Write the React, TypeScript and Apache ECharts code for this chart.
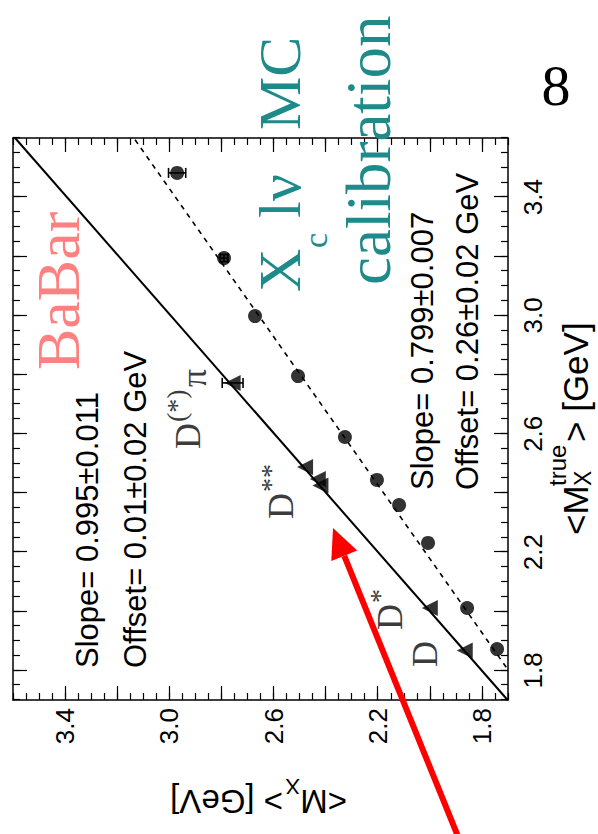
import React, { useEffect, useRef } from "react";
import * as echarts from "echarts";

// The plot is laid out landscape (W x H) and then turned a quarter turn
// counter-clockwise so it fills the portrait page.
const W = 834;
const H = 598;

const axisMin = 1.7;
const axisMax = 3.6;
const majorTicks = [1.8, 2.0, 2.2, 2.4, 2.6, 2.8, 3.0, 3.2, 3.4];
const tickLabels = [1.8, 2.2, 2.6, 3.0, 3.4];

// Single-resonance samples (triangles): D, D*, D** states, D(*)pi
const resTrue = [1.867, 2.011, 2.425, 2.447, 2.488, 2.772];
const resMeas = [1.866, 2.0, 2.42, 2.43, 2.479, 2.757];

// Inclusive MC bins (circles)
const incTrue = [3.482, 3.194, 2.998, 2.795, 2.589, 2.444, 2.359, 2.231, 2.011, 1.872];
const incMeas = [2.97, 2.79, 2.671, 2.506, 2.326, 2.203, 2.118, 2.007, 1.857, 1.742];

// Error bars: [true, measured, measured error, true error]
const errBars = [
  [3.482, 2.97, 0.033, 0],
  [3.194, 2.79, 0.015, 0.012],
  [2.772, 2.757, 0.04, 0],
];

// Straight-line fits
const fitSolid = { slope: 0.995, offset: 0.01 };
const fitDashed = { slope: 0.799, offset: 0.26 };

const SANS = "'Liberation Sans', Arial, Helvetica, sans-serif";
const SERIF = "'Liberation Serif', 'Times New Roman', Times, serif";
const TEAL = "#1f8a8a";
const SALMON = "#ff8080";
const LABEL_GREY = "#3c3c3c";

const GRID = { left: 134, top: 13, width: 562, height: 495 };

function fitLine(f: { slope: number; offset: number }) {
  return [axisMin, axisMax].map((x) => [x, f.slope * x + f.offset]);
}

function txt(
  text: string,
  x: number,
  y: number,
  size: number,
  family: string,
  fill: string,
  extra: any = {}
) {
  return {
    type: "text",
    x,
    y,
    silent: true,
    z: 50,
    style: {
      text,
      fill,
      fontSize: size,
      fontFamily: family,
      align: "left",
      verticalAlign: "middle",
      textAlign: "left",
      textVerticalAlign: "middle",
    },
    ...extra,
  };
}

function minorAxis(position: string, showLine: boolean) {
  return {
    type: "value",
    position,
    min: axisMin,
    max: axisMax,
    interval: 0.05,
    gridIndex: 0,
    axisLine: { show: showLine, lineStyle: { color: "#000", width: 1.5 } },
    axisTick: { show: true, inside: true, length: 7, lineStyle: { color: "#000", width: 1.2 } },
    axisLabel: { show: false },
    splitLine: { show: false },
  };
}

function majorAxis(position: string, withLabels: boolean, margin: number) {
  return {
    type: "value",
    position,
    min: axisMin,
    max: axisMax,
    gridIndex: 0,
    axisLine: { show: false },
    axisTick: {
      show: true,
      inside: true,
      length: 14,
      customValues: majorTicks,
      lineStyle: { color: "#000", width: 1.2 },
    },
    axisLabel: {
      show: withLabels,
      customValues: tickLabels,
      margin,
      color: "#000",
      fontSize: 26,
      fontFamily: SANS,
      formatter: (v: number) => v.toFixed(1),
    },
    splitLine: { show: false },
  };
}

export default function App() {
  const ref = useRef<HTMLDivElement>(null);

  useEffect(() => {
    if (!ref.current) return;
    const chart = echarts.init(ref.current, undefined, { renderer: "svg", width: W, height: H });

    // arrow geometry (landscape frame)
    const tip = [306, 333];
    const dir = [0.927, -0.376];
    const perp = [0.376, 0.927];
    const headLen = 30;
    const headHalf = 14;
    const base = [tip[0] - headLen * dir[0], tip[1] - headLen * dir[1]];

    const graphic: any[] = [
      // fit results
      txt("Slope= 0.995\u00b10.011", 166, 87, 31, SANS, "#000"),
      txt("Offset= 0.01\u00b10.02 GeV", 166, 135, 31, SANS, "#000"),
      txt("Slope= 0.799\u00b10.007", 344, 422, 31, SANS, "#000"),
      txt("Offset= 0.26\u00b10.02 GeV", 344, 467, 31, SANS, "#000"),

      // resonance labels
      txt("D", 385, 188, 36, SERIF, LABEL_GREY),
      txt("(*)", 412, 176, 28, SERIF, LABEL_GREY),
      txt("\u03c0", 447, 194, 36, SERIF, LABEL_GREY),
      txt("D", 315, 281, 36, SERIF, LABEL_GREY),
      txt("**", 342, 270, 28, SERIF, LABEL_GREY),
      txt("D", 204, 390, 36, SERIF, LABEL_GREY),
      txt("*", 231, 379, 28, SERIF, LABEL_GREY),
      txt("D", 167, 425, 36, SERIF, LABEL_GREY),

      // annotations
      txt("BaBar", 464, 58, 62, SERIF, SALMON),
      txt("X", 542, 280, 60, SERIF, TEAL),
      txt("c", 586, 315, 34, SERIF, TEAL),
      txt("l\u03bd", 616, 280, 60, SERIF, TEAL),
      txt("MC", 704, 280, 60, SERIF, TEAL),
      txt("calibration", 549, 369, 63, SERIF, TEAL),
      {
        type: "text",
        x: 749,
        y: 556,
        rotation: -Math.PI / 2,
        silent: true,
        z: 50,
        style: {
          text: "8",
          fill: "#000",
          fontSize: 58,
          fontFamily: SERIF,
          align: "center",
          verticalAlign: "middle",
          textAlign: "center",
          textVerticalAlign: "middle",
        },
      },

      // x axis title
      txt("<M", 299, 575, 35, SANS, "#000"),
      txt("X", 348, 583, 23, SANS, "#000"),
      txt("true", 348, 557, 24, SANS, "#000"),
      txt("> [GeV]", 392, 575, 35, SANS, "#000"),

      // y axis title, reading upwards
      {
        type: "group",
        x: 44,
        y: 347,
        rotation: Math.PI / 2,
        silent: true,
        z: 50,
        children: [
          txt("<M", 0, -11, 33, SANS, "#000"),
          txt("X", 47, 4, 22, SANS, "#000"),
          txt("> [GeV]", 64, -11, 33, SANS, "#000"),
        ],
      },

      // red arrow
      {
        type: "line",
        silent: true,
        z: 60,
        shape: { x1: -20, y1: 457 + 20 * 0.405, x2: base[0], y2: base[1] },
        style: { stroke: "#ff0000", lineWidth: 6 },
      },
      {
        type: "polygon",
        silent: true,
        z: 60,
        shape: {
          points: [
            tip,
            [base[0] + headHalf * perp[0], base[1] + headHalf * perp[1]],
            [base[0] - headHalf * perp[0], base[1] - headHalf * perp[1]],
          ],
        },
        style: { fill: "#ff0000" },
      },
    ];

    const option: any = {
      animation: false,
      backgroundColor: "#fff",
      grid: { ...GRID, containLabel: false },
      xAxis: [
        minorAxis("bottom", true),
        majorAxis("bottom", true, 12),
        minorAxis("top", true),
        majorAxis("top", false, 8),
      ],
      yAxis: [
        minorAxis("left", true),
        majorAxis("left", true, 8),
        minorAxis("right", true),
        majorAxis("right", false, 8),
      ],
      graphic,
      series: [
        {
          type: "line",
          data: fitLine(fitSolid),
          showSymbol: false,
          clip: true,
          lineStyle: { color: "#000", width: 2 },
          z: 2,
        },
        {
          type: "line",
          data: fitLine(fitDashed),
          showSymbol: false,
          clip: true,
          lineStyle: { color: "#000", width: 1.6, type: [5, 5] },
          z: 2,
        },
        {
          type: "custom",
          data: errBars,
          encode: { x: 0, y: 1 },
          z: 3,
          renderItem: (params: any, api: any) => {
            const x = api.value(0);
            const y = api.value(1);
            const ey = api.value(2);
            const ex = api.value(3);
            const children: any[] = [];
            const style = { stroke: "#000", lineWidth: 1.6 };
            const cap = 5;
            if (ey > 0) {
              const lo = api.coord([x, y - ey]);
              const hi = api.coord([x, y + ey]);
              children.push({ type: "line", shape: { x1: lo[0], y1: lo[1], x2: hi[0], y2: hi[1] }, style });
              children.push({ type: "line", shape: { x1: lo[0] - cap, y1: lo[1], x2: lo[0] + cap, y2: lo[1] }, style });
              children.push({ type: "line", shape: { x1: hi[0] - cap, y1: hi[1], x2: hi[0] + cap, y2: hi[1] }, style });
            }
            if (ex > 0) {
              const lo = api.coord([x - ex, y]);
              const hi = api.coord([x + ex, y]);
              children.push({ type: "line", shape: { x1: lo[0], y1: lo[1], x2: hi[0], y2: hi[1] }, style });
              children.push({ type: "line", shape: { x1: lo[0], y1: lo[1] - cap, x2: lo[0], y2: lo[1] + cap }, style });
              children.push({ type: "line", shape: { x1: hi[0], y1: hi[1] - cap, x2: hi[0], y2: hi[1] + cap }, style });
            }
            return { type: "group", children };
          },
        },
        {
          type: "scatter",
          data: incTrue.map((x, i) => [x, incMeas[i]]),
          symbol: "circle",
          symbolSize: 14,
          itemStyle: { color: "#000" },
          z: 4,
        },
        {
          type: "scatter",
          data: resTrue.map((x, i) => [x, resMeas[i]]),
          symbol: "triangle",
          symbolSize: 16,
          itemStyle: { color: "#000" },
          z: 4,
        },
      ],
    };

    chart.setOption(option);
    return () => chart.dispose();
  }, []);

  return (
    <div
      style={{
        position: "fixed",
        left: 0,
        top: 0,
        width: H,
        height: W,
        overflow: "hidden",
        background: "#fff",
      }}
    >
      <div
        ref={ref}
        style={{
          position: "absolute",
          left: 0,
          top: 0,
          width: W,
          height: H,
          transformOrigin: "0 0",
          transform: `translateY(${W}px) rotate(-90deg)`,
          background: "#fff",
        }}
      />
    </div>
  );
}
